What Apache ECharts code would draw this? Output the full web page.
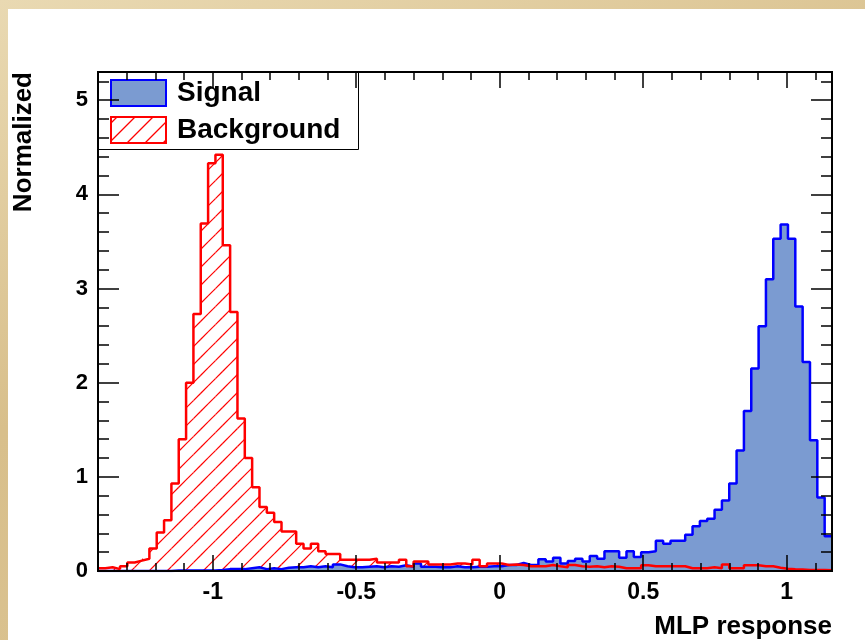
<!DOCTYPE html>
<html>
<head>
<meta charset="utf-8">
<script src="https://cdn.jsdelivr.net/npm/echarts@6/dist/echarts.min.js"></script>
<style>
    html, body {
        margin: 0;
        padding: 0;
    }

    body {
        width: 865px;
        height: 640px;
        position: relative;
        overflow: hidden;
        background: linear-gradient(160deg, #e9d9b2 0%, #d8bf8b 45%, #dcc594 100%);
    }

    .paper {
        position: absolute;
        left: 8px;
        top: 9px;
        right: 0px;
        bottom: 0px;
        background: #ffffff;
    }

    #chart {
        position: absolute;
        left: 0px;
        top: 0px;
        width: 865px;
        height: 640px;
    }
</style>
</head>
<body>
<div class="paper"></div>
<div id="chart"></div>
<script>
// histogram binning (100 bins)
const X_MIN = -1.4;
const X_MAX = 1.158;
const N_BINS = 100;

// signal (MLP response), normalized, one value per bin
const signal = [
    0, 0, 0, 0, 0, 0, 0, 0, 0, 0,
    0.005, 0.005, 0.005, 0.005, 0.005, 0.005, 0.01, 0.02, 0.02, 0.02,
    0.03, 0.04, 0.02, 0.03, 0.02, 0.035, 0.04, 0.04, 0.05, 0.04,
    0.05, 0.04, 0.07, 0.05, 0.04, 0.04, 0.045, 0.05, 0.04, 0.05,
    0.045, 0.06, 0.045, 0.08, 0.045, 0.046, 0.04, 0.04, 0.05, 0.04,
    0.04, 0.046, 0.046, 0.05, 0.05, 0.064, 0.064, 0.085, 0.064, 0.064,
    0.125, 0.10, 0.14, 0.08, 0.105, 0.13, 0.10, 0.16, 0.13, 0.21,
    0.21, 0.14, 0.21, 0.15, 0.20, 0.21, 0.32, 0.29, 0.32, 0.32,
    0.385, 0.475, 0.53, 0.555, 0.65, 0.75, 0.93, 1.28, 1.70, 2.15,
    2.60, 3.10, 3.53, 3.68, 3.53, 2.81, 2.22, 1.39, 0.78, 0.37
];

// background, normalized, one value per bin
const background = [
    0.03, 0.04, 0.02, 0.05, 0.09, 0.11, 0.13, 0.24, 0.41, 0.54,
    0.93, 1.40, 2.00, 2.73, 3.69, 4.33, 4.42, 3.46, 2.75, 1.62,
    1.20, 0.89, 0.68, 0.62, 0.52, 0.42, 0.42, 0.29, 0.24, 0.29,
    0.21, 0.18, 0.18, 0.12, 0.12, 0.12, 0.12, 0.13, 0.09, 0.09,
    0.09, 0.12, 0.05, 0.10, 0.10, 0.07, 0.07, 0.07, 0.08, 0.08,
    0.07, 0.12, 0.05, 0.08, 0.08, 0.064, 0.07, 0.064, 0.05, 0.05,
    0.05, 0.064, 0.05, 0.04, 0.064, 0.05, 0.046, 0.05, 0.04, 0.05,
    0.046, 0.03, 0.03, 0.03, 0.06, 0.05, 0.05, 0.05, 0.05, 0.05,
    0.03, 0.03, 0.03, 0.04, 0.03, 0.07, 0.03, 0.03, 0.06, 0.06,
    0.05, 0.05, 0.035, 0.025, 0.018, 0.015, 0.01, 0.01, 0.01, 0.007
];

// tick positions
const xMajorTicks = [-1, -0.5, 0, 0.5, 1];
const xMinorTicks = [-1.3, -1.2, -1.1, -0.9, -0.8, -0.7, -0.6, -0.4, -0.3, -0.2, -0.1,
    0.1, 0.2, 0.3, 0.4, 0.6, 0.7, 0.8, 0.9, 1.1];
const yMajorTicks = [0, 1, 2, 3, 4, 5];
const yMinorTicks = [0.2, 0.4, 0.6, 0.8, 1.2, 1.4, 1.6, 1.8, 2.2, 2.4, 2.6, 2.8,
    3.2, 3.4, 3.6, 3.8, 4.2, 4.4, 4.6, 4.8, 5.2];
const Y_MAX = 5.3;

const legendNames = ['Signal', 'Background'];

const FONT = '"Liberation Sans", Arial, Helvetica, sans-serif';
const SIGNAL_FILL = '#7b9bd1';
const HATCH_COLOR = 'rgb(255,0,0)';
const HATCH_STEP = 18;
const BIN_W = (X_MAX - X_MIN) / N_BINS;

// bin edges -> step points (left edge of each bin, plus closing point)
function toSteps(values) {
    const pts = values.map((v, i) => [X_MIN + i * BIN_W, v]);
    pts.push([X_MAX, values[values.length - 1]]);
    return pts;
}

// bins as [low edge, high edge, value] for the hatched rectangles
function toBins(values) {
    return values.map((v, i) => [X_MIN + i * BIN_W, X_MIN + (i + 1) * BIN_W, v]);
}

// "/" hatch lines (x + y = const) clipped to a pixel rectangle
function hatchLines(x0, yTop, x1, yBot, z) {
    const out = [];
    const cStart = Math.ceil((x0 + yTop) / HATCH_STEP) * HATCH_STEP;
    for (let c = cStart; c <= x1 + yBot; c += HATCH_STEP) {
        const xa = Math.max(x0, c - yBot);
        const xb = Math.min(x1, c - yTop);
        if (xb - xa < 0.3) continue;
        const seg = {
            type: 'line',
            silent: true,
            shape: { x1: xa, y1: c - xa, x2: xb, y2: c - xb },
            style: { stroke: HATCH_COLOR, fill: null, lineWidth: 1.2, opacity: 1 }
        };
        if (z !== undefined) seg.z = z;
        out.push(seg);
    }
    return out;
}

function xAxis(position, ticks, len, labels) {
    return {
        type: 'value',
        min: X_MIN,
        max: X_MAX,
        position: position,
        z: 5,
        axisLine: { show: true, onZero: false, lineStyle: { color: '#000', width: 2 } },
        axisTick: { show: true, inside: true, length: len, customValues: ticks, lineStyle: { color: '#000', width: 1.5 } },
        axisLabel: {
            show: labels,
            customValues: ticks,
            margin: 10,
            color: '#000',
            fontFamily: FONT,
            fontWeight: 'bold',
            fontSize: 23
        },
        splitLine: { show: false }
    };
}

function yAxis(position, ticks, len, labels) {
    return {
        type: 'value',
        min: 0,
        max: Y_MAX,
        position: position,
        z: 5,
        axisLine: { show: true, onZero: false, lineStyle: { color: '#000', width: 2 } },
        axisTick: { show: true, inside: true, length: len, customValues: ticks, lineStyle: { color: '#000', width: 1.5 } },
        axisLabel: {
            show: labels,
            customValues: ticks,
            margin: 10,
            color: '#000',
            fontFamily: FONT,
            fontWeight: 'bold',
            fontSize: 22
        },
        splitLine: { show: false }
    };
}

const xs = [
    xAxis('bottom', xMajorTicks, 16, true),
    xAxis('bottom', xMinorTicks, 8, false),
    xAxis('top', xMajorTicks, 16, false),
    xAxis('top', xMinorTicks, 8, false)
];
// axis title, right aligned under the axis
Object.assign(xs[0], {
    name: 'MLP response',
    nameLocation: 'end',
    nameGap: 0,
    nameTextStyle: {
        align: 'right',
        verticalAlign: 'top',
        padding: [43, 0, 0, 0],
        color: '#000',
        fontFamily: FONT,
        fontWeight: 'bold',
        fontSize: 26
    }
});

const ys = [
    yAxis('left', yMajorTicks, 21, true),
    yAxis('left', yMinorTicks, 11, false),
    yAxis('right', yMajorTicks, 21, false),
    yAxis('right', yMinorTicks, 11, false)
];
Object.assign(ys[0], {
    name: 'Normalized',
    nameLocation: 'end',
    nameGap: 0,
    nameRotate: 90,
    nameTextStyle: {
        align: 'right',
        verticalAlign: 'bottom',
        padding: [0, 0, 61, 0],
        color: '#000',
        fontFamily: FONT,
        fontWeight: 'bold',
        fontSize: 26
    }
});

// ROOT-like legend box, drawn below the frame ticks
const legendText = {
    fill: '#000',
    fontFamily: FONT,
    fontWeight: 'bold',
    fontSize: 28,
    verticalAlign: 'middle'
};
const legendBox = [
    { type: 'rect', z: 1, silent: true, shape: { x: 98.5, y: 72.5, width: 260, height: 77 }, style: { fill: '#fff', stroke: '#000', lineWidth: 1 } },
    { type: 'rect', z: 2, silent: true, shape: { x: 111, y: 80, width: 55, height: 26 }, style: { fill: SIGNAL_FILL, stroke: '#0000ff', lineWidth: 2 } }
].concat(hatchLines(111, 117, 166, 143, 2), [
    { type: 'rect', z: 3, silent: true, shape: { x: 111, y: 117, width: 55, height: 26 }, style: { fill: 'none', stroke: '#ff0000', lineWidth: 2 } },
    { type: 'text', z: 2, silent: true, x: 177, y: 93, style: Object.assign({ text: legendNames[0] }, legendText) },
    { type: 'text', z: 2, silent: true, x: 177, y: 130, style: Object.assign({ text: legendNames[1] }, legendText) }
]);

const chart = echarts.init(document.getElementById('chart'), null, { renderer: 'canvas' });
chart.setOption({
    animation: false,
    backgroundColor: 'transparent',
    grid: { left: 98, right: 33, top: 72, bottom: 69, containLabel: false },
    xAxis: xs,
    yAxis: ys,
    graphic: { elements: legendBox },
    series: [
        {
            name: 'Signal',
            type: 'line',
            step: 'end',
            symbol: 'none',
            data: toSteps(signal),
            lineStyle: { color: '#0000ff', width: 2.5 },
            itemStyle: { color: '#0000ff' },
            areaStyle: { color: SIGNAL_FILL, opacity: 1 }
        },
        {
            // hatched fill of the background histogram, one group per bin
            name: 'Background',
            type: 'custom',
            data: toBins(background),
            encode: { x: [0, 1], y: 2 },
            itemStyle: { color: HATCH_COLOR },
            renderItem: function (params, api) {
                const p0 = api.coord([api.value(0), 0]);
                const p1 = api.coord([api.value(1), api.value(2)]);
                return {
                    type: 'group',
                    children: hatchLines(p0[0], p1[1], p1[0], p0[1])
                };
            }
        },
        {
            name: 'Background',
            type: 'line',
            step: 'end',
            symbol: 'none',
            data: toSteps(background),
            lineStyle: { color: '#ff0000', width: 2.5 },
            itemStyle: { color: '#ff0000' }
        }
    ]
});
</script>
</body>
</html>
